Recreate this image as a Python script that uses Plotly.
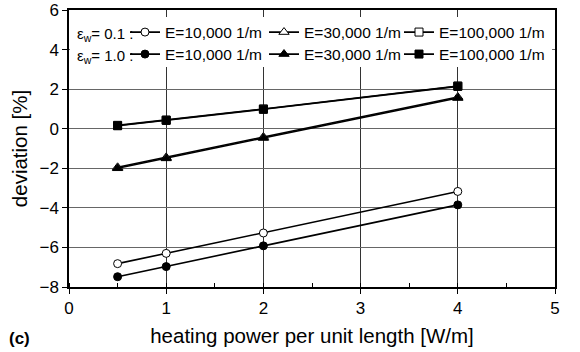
import plotly.graph_objects as go

# heating power per unit length [W/m]
power = [0.5, 1, 2, 4]

# deviation [%] for wall emissivity 0.1 (open markers)
dev_e01_E10k = [-6.82, -6.3, -5.27, -3.17]
dev_e01_E30k = [-1.95, -1.45, -0.42, 1.6]
dev_e01_E100k = [0.17, 0.44, 1.0, 2.16]

# deviation [%] for wall emissivity 1.0 (filled markers)
dev_e10_E10k = [-7.48, -6.97, -5.92, -3.85]
dev_e10_E30k = [-2.0, -1.5, -0.47, 1.55]
dev_e10_E100k = [0.15, 0.42, 0.98, 2.14]

x_ticks = [0, 1, 2, 3, 4, 5]
y_ticks = [-8, -6, -4, -2, 0, 2, 4, 6]

# (legend label, values, marker symbol, marker size)
series = [
    ("E=10,000 1/m", dev_e01_E10k, "circle-open", 8),
    ("E=30,000 1/m", dev_e01_E30k, "triangle-up-open", 9),
    ("E=100,000 1/m", dev_e01_E100k, "square-open", 8),
    ("E=10,000 1/m", dev_e10_E10k, "circle", 8),
    ("E=30,000 1/m", dev_e10_E30k, "triangle-up", 9),
    ("E=100,000 1/m", dev_e10_E100k, "square", 8),
]

FONT = "Arial"
L, R, T, B = 69, 25, 10, 65
W, H = 580, 352
PW, PH = W - L - R, H - T - B


def px_x(p):
    return (p - L) / PW


def px_y(p):
    return 1 - (p - T) / PH


# legend grid: one single-entry legend per trace (2 rows x 3 columns)
col_left = [125, 264, 399]
row_top = [15.5, 37.5]
legend_ids = ["legend", "legend2", "legend3", "legend4", "legend5", "legend6"]

fig = go.Figure()
for (name, vals, sym, size), leg in zip(series, legend_ids):
    is_open = sym.endswith("-open")
    fig.add_trace(go.Scatter(
        x=power, y=vals, name=name, mode="lines+markers", legend=leg,
        line=dict(color="black", width=1.6),
        marker=dict(symbol=sym.replace("-open", ""), size=size,
                    color="white" if is_open else "black",
                    line=dict(color="black", width=1)),
    ))

legend_style = dict(
    orientation="v", yanchor="top", xanchor="left",
    bgcolor="rgba(0,0,0,0)", borderwidth=0,
    font=dict(family=FONT, size=15.5, color="black"),
    itemwidth=30,
)
legends = {}
for i, leg in enumerate(legend_ids):
    legends[leg] = dict(x=px_x(col_left[i % 3]), y=px_y(row_top[i // 3]),
                        **legend_style)

fig.update_layout(
    width=W, height=H,
    margin=dict(l=L, r=R, t=T, b=B, autoexpand=False),
    paper_bgcolor="white", plot_bgcolor="white",
    font=dict(family=FONT, size=15, color="black"),
    showlegend=True,
    **legends,
    xaxis=dict(
        range=[0, 5], tickvals=x_ticks, ticks="outside", ticklen=5,
        tickcolor="black", showline=True, linecolor="black", linewidth=1.5,
        mirror=True, showgrid=True, gridcolor="#333", gridwidth=1,
        zeroline=False, tickfont=dict(size=17),
        minor=dict(dtick=0.5, ticks="inside", ticklen=4, tickcolor="black",
                   showgrid=False),
        title=dict(text="heating power per unit length [W/m]",
                   font=dict(size=20.5), standoff=11),
    ),
    yaxis=dict(
        range=[-8, 6], tickvals=y_ticks, ticks="outside", ticklen=5,
        tickcolor="black", showline=True, linecolor="black", linewidth=1.5,
        mirror=True, showgrid=True, gridcolor="#666", gridwidth=1,
        zeroline=False, tickfont=dict(size=17),
        title=dict(text="deviation [%]", font=dict(size=20.5), standoff=6),
    ),
)

# white panel behind the legend block: axis-referenced so that the
# "between" layer puts it above the grid lines and under the data
fig.add_shape(
    type="rect", xref="x", yref="y", layer="between",
    x0=0.01, x1=4.97, y0=3.12, y1=5.65,
    fillcolor="white", line=dict(width=0),
)

# row labels for the two emissivity groups in the legend
for label, ypix in [("ε<sub>w</sub>= 0.1 :", 35), ("ε<sub>w</sub>= 1.0 :", 57)]:
    fig.add_annotation(
        text=label, xref="paper", yref="paper",
        x=px_x(75), y=px_y(ypix),
        xanchor="left", yanchor="middle", showarrow=False,
        font=dict(family=FONT, size=15, color="black"),
    )

fig.add_annotation(
    text="<b>(c)</b>", xref="paper", yref="paper",
    x=px_x(7), y=px_y(338),
    xanchor="left", yanchor="middle", showarrow=False,
    font=dict(family=FONT, size=17, color="black"),
)

fig.write_html("out.html")
